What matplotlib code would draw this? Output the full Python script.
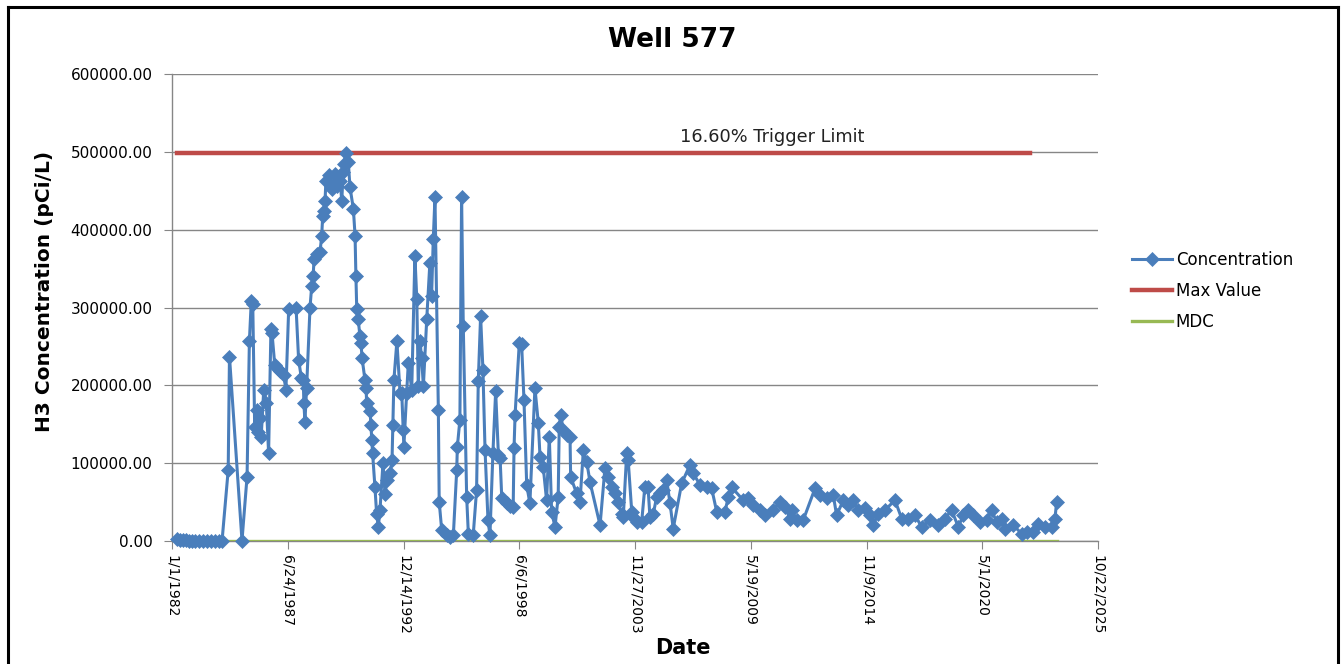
from datetime import datetime, timedelta
import matplotlib
matplotlib.use("Agg")
import matplotlib.pyplot as plt
from matplotlib.lines import Line2D
from matplotlib.ticker import FuncFormatter, MultipleLocator

# ---------------------- DADOS --------------------------------------------
# data da amostra em ano decimal
sample_year = [
    1982.24, 1982.38, 1982.52, 1982.66, 1982.80, 1982.95, 1983.09, 1983.28, 1983.47, 1983.66,
    1983.84, 1984.03, 1984.22, 1984.37, 1984.66, 1984.72, 1985.31, 1985.55, 1985.66, 1985.75,
    1985.82, 1985.91, 1986.02, 1986.07, 1986.15, 1986.22, 1986.34, 1986.46, 1986.57, 1986.68,
    1986.73, 1986.86, 1986.97, 1987.12, 1987.28, 1987.39, 1987.52, 1987.87, 1987.99, 1988.12,
    1988.21, 1988.24, 1988.29, 1988.37, 1988.53, 1988.61, 1988.68, 1988.72, 1988.84, 1989.00,
    1989.08, 1989.13, 1989.19, 1989.24, 1989.28, 1989.44, 1989.55, 1989.71, 1989.79, 1989.95,
    1990.03, 1990.10, 1990.14, 1990.23, 1990.34, 1990.42, 1990.58, 1990.66, 1990.70, 1990.74,
    1990.81, 1990.89, 1990.94, 1990.99, 1991.13, 1991.18, 1991.21, 1991.37, 1991.41, 1991.45,
    1991.49, 1991.60, 1991.68, 1991.76, 1991.84, 1991.98, 1992.08, 1992.17, 1992.31, 1992.41,
    1992.45, 1992.50, 1992.64, 1992.79, 1992.87, 1992.94, 1992.97, 1993.10, 1993.18, 1993.34,
    1993.49, 1993.58, 1993.65, 1993.73, 1993.81, 1993.89, 1994.05, 1994.20, 1994.28, 1994.36,
    1994.44, 1994.60, 1994.64, 1994.76, 1994.99, 1995.15, 1995.31, 1995.47, 1995.50, 1995.62,
    1995.70, 1995.78, 1995.94, 1996.02, 1996.25, 1996.41, 1996.49, 1996.60, 1996.71, 1996.81,
    1996.95, 1997.04, 1997.18, 1997.31, 1997.44, 1997.52, 1997.60, 1997.83, 1997.99, 1998.14,
    1998.18, 1998.23, 1998.43, 1998.54, 1998.65, 1998.78, 1998.93, 1999.17, 1999.33, 1999.41,
    1999.56, 1999.72, 1999.85, 1999.96, 2000.12, 2000.27, 2000.32, 2000.39, 2000.51, 2000.67,
    2000.83, 2000.86, 2001.14, 2001.30, 2001.46, 2001.62, 2001.77, 2002.25, 2002.48, 2002.64,
    2002.80, 2002.96, 2003.11, 2003.27, 2003.35, 2003.51, 2003.58, 2003.75, 2003.82, 2003.98,
    2004.22, 2004.37, 2004.52, 2004.61, 2004.77, 2004.93, 2005.08, 2005.24, 2005.40, 2005.56,
    2005.71, 2006.11, 2006.50, 2006.66, 2006.98, 2007.29, 2007.53, 2007.77, 2008.16, 2008.32,
    2008.48, 2009.02, 2009.26, 2009.50, 2009.81, 2010.05, 2010.44, 2010.76, 2011.00, 2011.23,
    2011.31, 2011.55, 2011.86, 2012.42, 2012.65, 2012.97, 2013.28, 2013.44, 2013.76, 2013.99,
    2014.23, 2014.46, 2014.78, 2015.02, 2015.17, 2015.41, 2015.73, 2016.20, 2016.52, 2016.83,
    2017.15, 2017.46, 2017.86, 2018.25, 2018.57, 2018.88, 2019.20, 2019.43, 2019.67, 2019.90,
    2020.22, 2020.54, 2020.77, 2021.01, 2021.25, 2021.40, 2021.80, 2022.19, 2022.43, 2022.74,
    2022.98, 2023.30, 2023.61, 2023.77, 2023.85,
]

# concentracao H3 (pCi/L)
h3_conc = [
    3000, 1500, 800, 800, 500, 500, 500, 500, 500, 500,
    500, 500, 500, 500, 91200, 237000, 500, 82600, 256700, 308300,
    304000, 147000, 168600, 140600, 158300, 134200, 194400, 177600, 113100, 271800,
    267500, 226600, 222400, 218000, 213700, 194400, 297600, 299800, 233100, 209500,
    207300, 177200, 153500, 197000, 299800, 327700, 340600, 362100, 368500, 370700,
    392200, 418000, 424400, 437300, 463100, 469600, 452400, 471700, 456700, 463100,
    437300, 474000, 484700, 498000, 486800, 454600, 426600, 392200, 340600, 297600,
    284700, 263200, 254700, 235300, 207300, 196600, 177200, 166400, 149300, 129900,
    112700, 69700, 35300, 18100, 40000, 99800, 60000, 78300, 86900, 104100,
    149300, 207300, 256700, 190200, 190200, 142800, 121300, 190200, 228900, 194400,
    366400, 310500, 198700, 256700, 235300, 198700, 284700, 357800, 314800, 387900,
    441700, 168600, 50300, 13800, 7400, 5000, 7400, 91200, 121300, 155700,
    441700, 276100, 56800, 9500, 7400, 65400, 205100, 289000, 220200, 117000,
    26700, 7400, 112700, 192200, 110600, 106700, 54700, 48200, 45000, 43900,
    119200, 162200, 254700, 252500, 181500, 71900, 48200, 196600, 151400, 108400,
    95500, 52500, 134200, 37400, 18100, 56800, 147000, 162200, 142800, 136400,
    134200, 82600, 61100, 50300, 117000, 101900, 76100, 20300, 93400, 82600,
    69700, 61100, 50000, 35300, 31000, 112700, 104100, 37400, 31000, 24500,
    24500, 69700, 69700, 31000, 35000, 56800, 61100, 65400, 78300, 48200,
    16000, 74000, 97600, 86900, 71900, 69700, 67600, 37400, 37400, 56800,
    68900, 52500, 54700, 46100, 39600, 33200, 39600, 50300, 43900, 28900,
    39600, 26700, 26700, 67600, 59000, 54700, 59000, 33200, 52500, 46100,
    52500, 39600, 41800, 33200, 20300, 35300, 39600, 52500, 28900, 28900,
    33200, 18100, 26700, 20300, 28900, 39600, 18100, 33200, 39600, 33200,
    24500, 26700, 39600, 24500, 28900, 16000, 20300, 9500, 11600, 11600,
    22400, 18100, 18100, 28900, 50300,
]

max_year = [1982.24, 2022.59]
max_value = [498000, 498000]
mdc_year = [1982.24, 2023.85]
mdc_value = [400, 400]

tick_dates = ["1/1/1982", "6/24/1987", "12/14/1992", "6/6/1998", "11/27/2003",
              "5/19/2009", "11/9/2014", "5/1/2020", "10/22/2025"]

trigger_label = "16.60% Trigger Limit"


def ano_para_data(y):
    ano = int(y)
    return datetime(ano, 1, 1) + timedelta(days=(y - ano) * 365.25)


datas = [ano_para_data(y) for y in sample_year]
datas_max = [ano_para_data(y) for y in max_year]
datas_mdc = [ano_para_data(y) for y in mdc_year]
ticks = [datetime.strptime(t, "%m/%d/%Y") for t in tick_dates]

# ---------------------- FIGURA -------------------------
plt.rcParams['font.family'] = ['DejaVu Sans']
fig = plt.figure(figsize=(13.42, 6.64), dpi=100)
ax = fig.add_axes([172 / 1342, 1 - 541 / 664, 926 / 1342, 467 / 664])

grid_cor = '#868686'
ax.yaxis.set_major_locator(MultipleLocator(100000))
ax.set_ylim(0, 600000)
ax.grid(axis='y', color=grid_cor, linewidth=1.0)
ax.set_axisbelow(True)

ax.plot(datas_max, max_value, color='#BE4B48', linewidth=3.2, label='Max Value', zorder=3)
ax.plot(datas_mdc, mdc_value, color='#98B954', linewidth=2.4, label='MDC', zorder=3)
ax.plot(datas, h3_conc, color='#4A7EBB', linewidth=2.2, marker='D', markersize=7,
        markeredgewidth=0.5, label='Concentration', zorder=4, clip_on=False)

ax.set_xlim(ticks[0], ticks[-1])
ax.set_xticks(ticks)
ax.set_xticklabels(tick_dates, rotation=-90, fontsize=10)
ax.yaxis.set_major_formatter(FuncFormatter(lambda v, p: f"{v:.2f}"))
ax.tick_params(axis='y', labelsize=11, length=6, color=grid_cor, pad=8)
ax.tick_params(axis='x', length=6, color=grid_cor, pad=4)

for lado in ['top', 'right']:
    ax.spines[lado].set_visible(False)
for lado in ['left', 'bottom']:
    ax.spines[lado].set_color(grid_cor)
    ax.spines[lado].set_linewidth(1.0)

ax.text(0.648, 0.865, trigger_label, transform=ax.transAxes, ha='center', va='center',
        fontsize=12.8, color='#222222')

fig.text(672 / 1342, 1 - 40 / 664, "Well 577", ha='center', va='center',
         fontsize=19, fontweight='bold')
fig.text(45 / 1342, 1 - 291 / 664, "H3 Concentration (pCi/L)", ha='center', va='center',
         rotation=90, fontsize=14.5, fontweight='bold')
fig.text(683 / 1342, 1 - 648 / 664, "Date", ha='center', va='center',
         fontsize=15, fontweight='bold')

h, l = ax.get_legend_handles_labels()
ordem = [2, 0, 1]
fig.legend([h[i] for i in ordem], [l[i] for i in ordem], loc='upper left',
           bbox_to_anchor=(1125 / 1342, 1 - 244 / 664), frameon=False, fontsize=12,
           handlelength=2.4, handletextpad=0.25, labelspacing=0.78, borderaxespad=0)

# moldura preta
for xs, ys in [([8, 8], [664, 7]), ([8, 1338], [7, 7]), ([1338, 1338], [7, 664])]:
    fig.add_artist(Line2D([x / 1342 for x in xs], [1 - y / 664 for y in ys],
                          color='black', linewidth=2.2, transform=fig.transFigure))

fig.savefig("out.png", dpi=100, facecolor='white')
